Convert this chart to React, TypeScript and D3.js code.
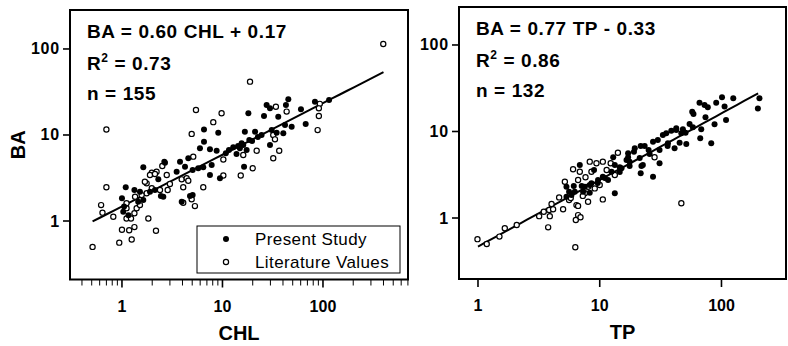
import { useMemo } from 'react'
import * as d3 from 'd3'

type Pt = [number, number]

// [CHL, BA]
const chlPresent: Pt[] = [
  [1.63, 4.21], [2.64, 4.9], [1.09, 2.47], [1.33, 2.29], [1.51, 2.19], [1.0, 1.84], [1.05, 1.47],
  [1.45, 1.68], [1.63, 1.75], [2.13, 2.29], [2.3, 3.05], [2.44, 1.95], [2.58, 1.92], [3.5, 3.74],
  [3.78, 4.9], [4.24, 4.28], [4.57, 5.36], [3.93, 1.68], [4.75, 1.95], [1.9, 2.19], [1.03, 1.28],
  [1.16, 1.17], [18.1, 17.9], [6.55, 11.6], [9.08, 10.6], [6.55, 8.36], [5.97, 7.0], [7.51, 6.82],
  [8.75, 6.57], [10.8, 6.12], [12.8, 7.19], [13.8, 6.01], [15.5, 8.0], [16.7, 10.9], [18.5, 8.75],
  [21.1, 10.9], [24.5, 10.0], [27.5, 22.3], [29.7, 20.4], [25.9, 16.6], [35.9, 16.3], [45.2, 26],
  [42.8, 22.3], [40.3, 10.5], [48.8, 12.5], [30.9, 11.4], [29.7, 7.65], [16.4, 4.28], [9.44, 3.14],
  [7.51, 3.43], [7.81, 4.48], [6.44, 4.21], [5.74, 4.1], [5.05, 3.92], [5.05, 2.0], [14.9, 7.0],
  [16.1, 7.65], [17.4, 6.69], [60.4, 19.9], [83.2, 24.4], [115, 25.5], [67.3, 13.4], [41.9, 13.1],
  [34.6, 10.6], [2.68, 4.76], [11.6, 6.69], [14.3, 7.45], [19.7, 8.51], [22.5, 9.48]
]

const chlLiterature: Pt[] = [
  [0.7, 11.6], [4.94, 10.3], [0.7, 2.47], [0.62, 1.53], [0.64, 1.25], [0.82, 1.12], [0.51, 0.5],
  [0.94, 0.56], [1.25, 0.61], [1.0, 0.79], [1.18, 0.78], [1.33, 0.85], [1.83, 1.07], [2.18, 0.77],
  [1.11, 1.07], [1.23, 1.07], [1.33, 1.23], [1.4, 1.41], [1.11, 1.41], [1.11, 1.61], [1.35, 1.92],
  [1.76, 2.74], [1.98, 3.65], [2.21, 3.74], [2.52, 4.36], [2.79, 3.43], [3.0, 2.69], [2.85, 2.29],
  [1.98, 2.4], [1.76, 2.1], [1.57, 2.0], [3.93, 3.05], [4.07, 2.47], [4.4, 3.14], [2.39, 2.29],
  [1.51, 1.53], [18.8, 41.7], [5.45, 19.5], [9.8, 17.9], [8.1, 14.1], [43.5, 18.7], [34, 21.3],
  [32, 10.0], [33.3, 8.9], [36.7, 6.57], [32, 5.36], [21.9, 6.57], [16.1, 5.85], [20, 4.1],
  [15.2, 3.38], [10.2, 3.38], [10.2, 5.19], [6.44, 2.47], [5.32, 1.49], [5.12, 5.6], [398, 114],
  [93, 23], [91, 20.4], [91, 16.6], [88.5, 11.4], [4.94, 1.79], [4.57, 2.94], [1.69, 2.86],
  [1.9, 3.43], [2.13, 3.52], [4.07, 1.63]
]

// [TP, BA]
const tpPresent: Pt[] = [
  [5.33, 2.3], [5.6, 2.01], [5.86, 1.84], [6.24, 2.01], [5.33, 1.76], [6.86, 4.1], [8.98, 3.59],
  [12.9, 5.03], [13.3, 4.1], [14.6, 3.85], [16.6, 4.69], [17.1, 5.03], [19.1, 5.84], [21.7, 6.8],
  [23.4, 6.8], [25.2, 6.11], [22.6, 4.1], [21.7, 3.29], [27.4, 3.0], [31.0, 4.29], [30.0, 7.97],
  [33.0, 9.12], [35.2, 9.53], [38.7, 10.2], [42.5, 10.4], [41.2, 6.39], [36.3, 7.31], [46.8, 9.53],
  [12.5, 3.43], [10.6, 3.0], [11.7, 2.75], [9.68, 2.75], [8.55, 2.52], [7.54, 2.3], [7.3, 2.01],
  [8.28, 1.96], [13.3, 1.93], [19.4, 6.39], [15.1, 3.76], [17.6, 4.48], [66, 21.5], [72.6, 20.2],
  [77.2, 19.1], [90.5, 21.5], [101, 24.9], [125, 24.2], [205, 24.2], [199, 18.5], [106, 19.4],
  [57.5, 16.9], [58.9, 15.9], [73.9, 14.6], [109, 13.6], [87.7, 12.1], [54.7, 12.2], [58.2, 11.2],
  [68.2, 10.6], [48.2, 10.6], [50.7, 9.68], [66.9, 8.34], [51.4, 7.17], [82.4, 7.31], [45.3, 7.43],
  [42.5, 10.9], [27.4, 7.62], [17.1, 5.6], [22.0, 3.99], [6.12, 2.34], [7.11, 2.34], [8.28, 2.41],
  [9.63, 2.54], [11.0, 2.9], [14.6, 3.4], [17.6, 3.99], [21.3, 4.94], [25.7, 5.49], [31.0, 6.11],
  [36.1, 6.8]
]

const tpLiterature: Pt[] = [
  [0.99, 0.57], [1.18, 0.5], [1.5, 0.61], [1.66, 0.76], [2.08, 0.83], [3.18, 1.05], [3.47, 1.18],
  [3.84, 1.24], [4.02, 1.45], [4.14, 1.26], [3.89, 1.05], [3.77, 0.78], [4.64, 1.73], [5.0, 1.26],
  [6.3, 0.46], [6.36, 0.95], [6.64, 1.08], [6.95, 1.02], [6.04, 3.66], [6.64, 2.75], [5.17, 2.63],
  [5.6, 1.61], [6.44, 1.41], [8.28, 4.48], [9.4, 4.29], [10.6, 4.48], [14.1, 5.69], [12.3, 4.29],
  [6.86, 3.43], [7.64, 2.96], [11.4, 3.59], [13.3, 3.14], [8.02, 2.3], [10.0, 2.41], [7.54, 1.93],
  [6.64, 1.38], [8.02, 1.54], [10.6, 1.64], [46.8, 1.48], [28.2, 5.03], [9.1, 2.2], [8.55, 3.43],
  [5.78, 1.7], [7.26, 1.8]
]

const xTickLabels = ['1', '10', '100']
const yTickLabels = ['1', '10', '100']
const majorTicks = [1, 10, 100]

interface PanelProps {
  left: number
  right: number
  top: number
  bottom: number
  xDomain: [number, number]
  yDomain: [number, number]
  present: Pt[]
  literature: Pt[]
  slope: number
  intercept: number
  fitRange: [number, number]
  xTitle: string
  eqn: string
  r2: string
  n: string
  minorX: boolean
  showYTitle: boolean
  legend: boolean
}

const FONT = '"Liberation Sans", Arial, Helvetica, sans-serif'

function Panel(p: PanelProps) {
  const x = d3.scaleLog().domain(p.xDomain).range([p.left, p.right])
  const y = d3.scaleLog().domain(p.yDomain).range([p.bottom, p.top])

  const minor = p.minorX
    ? x.ticks().filter(t => !majorTicks.includes(t))
    : []

  const fitPts = d3.range(0, 41).map(i => {
    const lx = Math.log10(p.fitRange[0]) + (Math.log10(p.fitRange[1]) - Math.log10(p.fitRange[0])) * i / 40
    return [Math.pow(10, lx), Math.pow(10, p.slope * lx + p.intercept)] as Pt
  })
  const line = d3.line<Pt>().x(d => x(d[0])).y(d => y(d[1]))

  const textX = p.left + 17
  const cx = (p.left + p.right) / 2

  return (
    <g>
      {/* frame */}
      <rect x={p.left} y={p.top} width={p.right - p.left} height={p.bottom - p.top}
        fill="none" stroke="#000" strokeWidth={2} />

      {/* y ticks */}
      {majorTicks.map((t, i) => (
        <g key={'y' + t}>
          <line x1={p.left - 7} x2={p.left} y1={y(t)} y2={y(t)} stroke="#000" strokeWidth={1.6} />
          <text x={p.left - 10} y={y(t) + 5.5} textAnchor="end" fontFamily={FONT}
            fontWeight="bold" fontSize={16} letterSpacing={0.8}>{yTickLabels[i]}</text>
        </g>
      ))}

      {/* x ticks */}
      {majorTicks.map((t, i) => (
        <g key={'x' + t}>
          <line x1={x(t)} x2={x(t)} y1={p.bottom} y2={p.bottom + 8} stroke="#000" strokeWidth={1.6} />
          <text x={x(t)} y={p.bottom + 32} textAnchor="middle" fontFamily={FONT}
            fontWeight="bold" fontSize={16}>{xTickLabels[i]}</text>
        </g>
      ))}
      {minor.map(t => (
        <line key={'m' + t} x1={x(t)} x2={x(t)} y1={p.bottom} y2={p.bottom + 6}
          stroke="#000" strokeWidth={1} />
      ))}

      {/* axis titles */}
      <text x={cx} y={p.bottom + 60} textAnchor="middle" fontFamily={FONT}
        fontWeight="bold" fontSize={20}>{p.xTitle}</text>
      {p.showYTitle && (
        <text transform={`translate(25,${(p.top + p.bottom) / 2}) rotate(-90)`} textAnchor="middle"
          fontFamily={FONT} fontWeight="bold" fontSize={20}>BA</text>
      )}

      {/* fit line */}
      <path d={line(fitPts) || ''} fill="none" stroke="#000" strokeWidth={2} />

      {/* points */}
      {p.literature.map((d, i) => (
        <circle key={'l' + i} cx={x(d[0])} cy={y(d[1])} r={2.6} fill="#fff" stroke="#000" strokeWidth={1.2} />
      ))}
      {p.present.map((d, i) => (
        <circle key={'p' + i} cx={x(d[0])} cy={y(d[1])} r={3} fill="#000" />
      ))}

      {/* annotations */}
      <text x={textX} y={p.top + 28} fontFamily={FONT} fontWeight="bold" fontSize={19} letterSpacing={0.6}>{p.eqn}</text>
      <text x={textX} y={p.top + 60} fontFamily={FONT} fontWeight="bold" fontSize={19} letterSpacing={0.6}>
        R<tspan fontSize={12} dy={-8}>2</tspan><tspan dy={8}>{' = ' + p.r2}</tspan>
      </text>
      <text x={textX} y={p.top + 90} fontFamily={FONT} fontWeight="bold" fontSize={19} letterSpacing={0.6}>{'n = ' + p.n}</text>

      {p.legend && (
        <g>
          <rect x={197} y={226} width={203} height={47} fill="#fff" stroke="#000" strokeWidth={1} />
          <circle cx={226} cy={239} r={3} fill="#000" />
          <text x={255} y={245} fontFamily={FONT} fontSize={17} letterSpacing={0.4}>Present Study</text>
          <circle cx={226} cy={262} r={2.6} fill="#fff" stroke="#000" strokeWidth={1.2} />
          <text x={255} y={268} fontFamily={FONT} fontSize={17} letterSpacing={0.4}>Literature Values</text>
        </g>
      )}
    </g>
  )
}

export default function App() {
  const panels = useMemo(() => [
    {
      left: 70, right: 408, top: 10, bottom: 279.5,
      xDomain: [Math.pow(10, -0.517), Math.pow(10, 2.846)] as [number, number],
      yDomain: [Math.pow(10, -0.68), Math.pow(10, 2.453)] as [number, number],
      present: chlPresent, literature: chlLiterature,
      slope: 0.6, intercept: 0.17, fitRange: [0.51, 400] as [number, number],
      xTitle: 'CHL', eqn: 'BA = 0.60 CHL + 0.17', r2: '0.73', n: '155',
      minorX: true, showYTitle: true, legend: true
    },
    {
      left: 459, right: 786, top: 7, bottom: 279,
      xDomain: [Math.pow(10, -0.156), Math.pow(10, 2.53)] as [number, number],
      yDomain: [Math.pow(10, -0.705), Math.pow(10, 2.439)] as [number, number],
      present: tpPresent, literature: tpLiterature,
      slope: 0.77, intercept: -0.33, fitRange: [1, 200] as [number, number],
      xTitle: 'TP', eqn: 'BA = 0.77 TP - 0.33', r2: '0.86', n: '132',
      minorX: false, showYTitle: false, legend: false
    }
  ], [])

  return (
    <div style={{ position: 'fixed', left: 0, top: 0 }}>
      <svg width={788} height={346} style={{ display: 'block', background: '#fff' }}>
        {panels.map((p, i) => <Panel key={i} {...p} />)}
      </svg>
    </div>
  )
}
